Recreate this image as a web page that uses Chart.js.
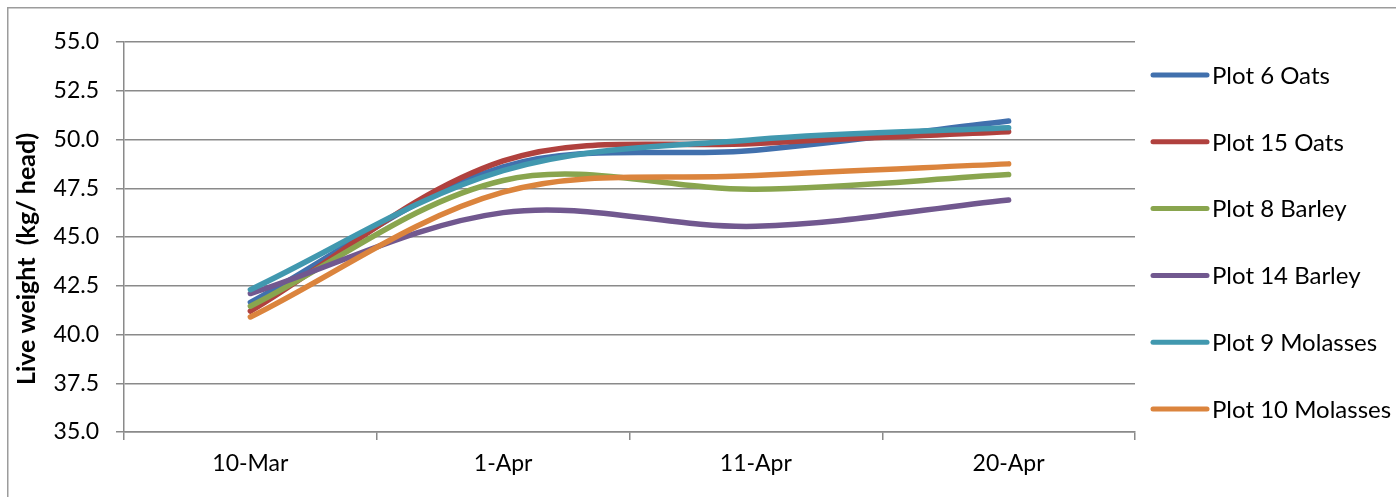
<!DOCTYPE html>
<html>
<head>
<meta charset="utf-8">
<script src="https://cdn.jsdelivr.net/npm/chart.js@4.4.0/dist/chart.umd.min.js"></script>
<style>
  html, body { margin: 0; padding: 0; background: #fff; overflow: hidden; }
  #wrap { width: 1396px; height: 497px; position: relative; }
</style>
</head>
<body>
<div id="wrap"><canvas id="c"></canvas></div>
<script>
// Live weight per head (kg) by weighing date
const dates = ['10-Mar', '1-Apr', '11-Apr', '20-Apr'];
const plot6Oats      = [41.65, 48.6, 49.45, 50.95];
const plot15Oats     = [41.2, 48.9, 49.8, 50.4];
const plot8Barley    = [41.45, 47.9, 47.45, 48.2];
const plot14Barley   = [42.1, 46.25, 45.55, 46.9];
const plot9Molasses  = [42.3, 48.4, 50.0, 50.6];
const plot10Molasses = [40.9, 47.3, 48.15, 48.75];
const seriesNames = ['Plot 6 Oats', 'Plot 15 Oats', 'Plot 8 Barley', 'Plot 14 Barley', 'Plot 9 Molasses', 'Plot 10 Molasses'];
const yTickValues = [35.0, 37.5, 40.0, 42.5, 45.0, 47.5, 50.0, 52.5, 55.0];
const yTitle = 'Live weight  (kg/ head)';

const seriesValues = [plot6Oats, plot15Oats, plot8Barley, plot14Barley, plot9Molasses, plot10Molasses];
const seriesColors = ['#4170ad', '#b0413e', '#89a54e', '#71588f', '#4198af', '#db843d'];

const FONT = 'Lato, "Open Sans", sans-serif';
const GRID = '#8a8a8a';

// outer frame of the chart object
const framePlugin = {
  id: 'frame',
  beforeDraw(chart) {
    const ctx = chart.ctx;
    ctx.save();
    ctx.strokeStyle = '#9c9c9c';
    ctx.lineWidth = 1.5;
    ctx.strokeRect(7.75, 7.75, chart.width + 20, chart.height + 20);
    ctx.restore();
  }
};

// rotated value-axis title
const yTitlePlugin = {
  id: 'yTitle',
  afterDraw(chart) {
    const ctx = chart.ctx;
    const a = chart.chartArea;
    ctx.save();
    ctx.translate(27, (a.top + a.bottom) / 2 + 22);
    ctx.rotate(-Math.PI / 2);
    ctx.font = 'bold 25px ' + FONT;
    ctx.fillStyle = '#000';
    ctx.textAlign = 'center';
    ctx.textBaseline = 'middle';
    ctx.fillText(yTitle, 0, 0);
    ctx.restore();
  }
};

// legend column to the right of the plot
const legendPlugin = {
  id: 'sideLegend',
  afterDraw(chart) {
    const ctx = chart.ctx;
    const a = chart.chartArea;
    const x0 = a.right + 18;
    const step = 66.8;
    const y0 = 75;
    ctx.save();
    chart.data.datasets.forEach((ds, i) => {
      const y = y0 + i * step;
      ctx.strokeStyle = ds.borderColor;
      ctx.lineWidth = 5;
      ctx.lineCap = 'round';
      ctx.beginPath();
      ctx.moveTo(x0, y);
      ctx.lineTo(x0 + 54, y);
      ctx.stroke();
      ctx.fillStyle = '#000';
      ctx.font = '24px ' + FONT;
      ctx.textAlign = 'left';
      ctx.textBaseline = 'middle';
      ctx.fillText(ds.label, x0 + 59, y + 1);
    });
    ctx.restore();
  }
};

new Chart(document.getElementById('c'), {
  type: 'line',
  data: {
    labels: dates,
    datasets: seriesValues.map((vals, i) => ({
      label: seriesNames[i],
      data: vals,
      borderColor: seriesColors[i],
      backgroundColor: seriesColors[i],
      borderWidth: 5.5,
      borderCapStyle: 'round',
      borderJoinStyle: 'round',
      pointRadius: 0,
      pointHoverRadius: 0,
      tension: 0.34,
      fill: false,
      order: seriesValues.length - 1 - i
    }))
  },
  options: {
    responsive: true,
    maintainAspectRatio: false,
    animation: false,
    events: [],
    layout: { padding: { top: 42, right: 261, left: 0, bottom: 0 } },
    plugins: {
      legend: { display: false },
      tooltip: { enabled: false }
    },
    scales: {
      x: {
        type: 'category',
        offset: true,
        afterFit(s) { s.height = 65; },
        grid: {
          offset: true,
          drawOnChartArea: false,
          drawTicks: true,
          tickLength: 8,
          color: GRID,
          lineWidth: 1.5
        },
        border: { display: true, color: GRID, width: 1.5 },
        ticks: {
          color: '#000',
          font: { family: FONT, size: 23 },
          padding: 10,
          maxRotation: 0
        }
      },
      y: {
        min: 35,
        max: 55,
        afterFit(s) { s.width = 124; },
        afterBuildTicks(s) { s.ticks = yTickValues.map(v => ({ value: v })); },
        grid: {
          drawTicks: true,
          tickLength: 8,
          color: GRID,
          lineWidth: 1.5
        },
        border: { display: true, color: GRID, width: 1.5 },
        ticks: {
          color: '#000',
          font: { family: FONT, size: 23 },
          padding: 17,
          callback: v => Number(v).toFixed(1)
        }
      }
    }
  },
  plugins: [framePlugin, yTitlePlugin, legendPlugin]
});
</script>
</body>
</html>
